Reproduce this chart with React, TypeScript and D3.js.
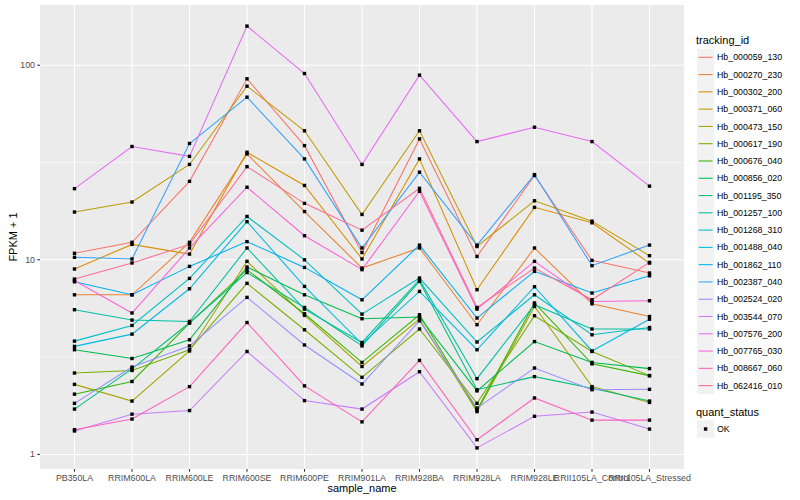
import React from "react";
import * as d3 from "d3";

const categories = ["PB350LA","RRIM600LA","RRIM600LE","RRIM600SE","RRIM600PE","RRIM901LA","RRIM928BA","RRIM928LA","RRIM928LE","RRII105LA_Control","RRII105LA_Stressed"];

const trackingIds = ["Hb_000059_130","Hb_000270_230","Hb_000302_200","Hb_000371_060","Hb_000473_150","Hb_000617_190","Hb_000676_040","Hb_000856_020","Hb_001195_350","Hb_001257_100","Hb_001268_310","Hb_001488_040","Hb_001862_110","Hb_002387_040","Hb_002524_020","Hb_003544_070","Hb_007576_200","Hb_007765_030","Hb_008667_060","Hb_062416_010"];

const palette = ["#F8766D","#EA8331","#D89000","#C09B00","#A3A500","#7CAE00","#39B600","#00BB4E","#00BF7D","#00C1A3","#00BFC4","#00BAE0","#00B0F6","#35A2FF","#9590FF","#C77CFF","#E76BF3","#FA62DB","#FF62BC","#FF6C91"];

const hb000059_130 = [10.8, 12.3, 25.3, 85.1, 38.6, 10.9, 41.8, 10.4, 27.1, 9.93, 8.55];
const hb000270_230 = [6.61, 6.61, 12.3, 35.0, 17.7, 9.07, 11.5, 4.64, 11.5, 5.94, 5.11];
const hb000302_200 = [8.97, 12.0, 10.7, 35.7, 24.1, 10.1, 33.0, 7.02, 18.6, 15.5, 9.62];
const hb000371_060 = [17.6, 19.8, 30.9, 78.0, 46.0, 17.1, 46.0, 11.7, 20.1, 15.8, 10.5];
const hb000473_150 = [2.29, 1.88, 3.40, 9.82, 5.18, 2.83, 4.96, 1.66, 5.76, 2.23, 1.85];
const hb000617_190 = [2.62, 2.70, 3.45, 7.57, 4.37, 2.49, 4.41, 1.83, 5.16, 3.38, 2.54];
const hb000676_040 = [2.04, 2.37, 4.73, 8.9, 5.28, 2.97, 5.22, 1.69, 6.0, 2.92, 2.54];
const hb000856_020 = [3.45, 3.11, 3.88, 9.18, 6.61, 4.98, 5.08, 2.12, 3.80, 2.97, 2.76];
const hb001195_350 = [1.71, 2.75, 4.75, 8.6, 5.69, 3.61, 7.74, 2.15, 2.51, 2.19, 1.88];
const hb001257_100 = [5.54, 4.90, 4.82, 11.5, 5.58, 3.76, 7.90, 2.45, 5.88, 4.41, 4.41];
const hb001268_310 = [3.82, 4.60, 8.02, 16.7, 10.0, 5.26, 8.06, 3.78, 6.61, 4.12, 4.49];
const hb001488_040 = [3.59, 4.15, 7.10, 15.7, 7.30, 3.70, 6.88, 3.45, 7.27, 3.40, 4.95];
const hb001862_110 = [7.71, 6.61, 9.25, 12.4, 9.14, 6.23, 11.9, 5.02, 8.72, 6.75, 8.28];
const hb002387_040 = [10.3, 10.1, 39.6, 68.5, 33.0, 11.5, 28.2, 11.9, 27.4, 9.33, 11.9];
const hb002524_020 = [1.83, 2.81, 3.61, 6.41, 3.65, 2.30, 4.86, 1.73, 2.78, 2.15, 2.16];
const hb003544_070 = [1.32, 1.61, 1.68, 3.38, 1.89, 1.71, 2.66, 1.08, 1.57, 1.65, 1.35];
const hb007576_200 = [23.2, 38.2, 34.0, 158.8, 90.6, 30.9, 88.9, 40.5, 48.0, 40.5, 23.9];
const hb007765_030 = [7.83, 5.33, 11.5, 23.6, 13.3, 8.90, 22.5, 5.58, 9.82, 6.11, 6.16];
const hb008667_060 = [1.34, 1.52, 2.23, 4.76, 2.25, 1.47, 3.04, 1.19, 1.95, 1.50, 1.50];
const hb062416_010 = [7.96, 9.63, 12.0, 30.1, 19.5, 14.2, 23.3, 5.69, 9.07, 6.23, 9.7];

const seriesValues = [hb000059_130, hb000270_230, hb000302_200, hb000371_060, hb000473_150, hb000617_190, hb000676_040, hb000856_020, hb001195_350, hb001257_100, hb001268_310, hb001488_040, hb001862_110, hb002387_040, hb002524_020, hb003544_070, hb007576_200, hb007765_030, hb008667_060, hb062416_010];

const yTicks = [1, 10, 100];
const yMinor = [Math.sqrt(10), Math.sqrt(1000)];

const W = 800, H = 500;
const panel = { left: 40, right: 684, top: 5, bottom: 469 };
const FONT = "'Liberation Sans', Arial, Helvetica, sans-serif";

export default function App() {
  const all = seriesValues.flat();
  const lmin = Math.log10(d3.min(all) as number);
  const lmax = Math.log10(d3.max(all) as number);
  const pad = (lmax - lmin) * 0.05;
  const y = d3.scaleLog().domain([Math.pow(10, lmin - pad), Math.pow(10, lmax + pad)]).range([panel.bottom, panel.top]);
  const x = d3.scalePoint<string>().domain(categories).range([panel.left, panel.right]).padding(0.6);
  const line = d3.line<number>().x((_, i) => x(categories[i]) as number).y((d) => y(d));
  const keyStep = 17.28;
  const keyTop = 57.3 - keyStep / 2;
  const ps = 3.4;

  return (
    <svg width={W} height={H} style={{ position: "absolute", left: 0, top: 0, background: "#fff" }} fontFamily={FONT}>
      <rect x={panel.left} y={panel.top} width={panel.right - panel.left} height={panel.bottom - panel.top} fill="#EBEBEB" />
      {yMinor.map((v) => (
        <line key={"mn" + v} x1={panel.left} x2={panel.right} y1={y(v)} y2={y(v)} stroke="#fff" strokeWidth={0.55} />
      ))}
      {yTicks.map((v) => (
        <line key={"mj" + v} x1={panel.left} x2={panel.right} y1={y(v)} y2={y(v)} stroke="#fff" strokeWidth={1.07} />
      ))}
      {categories.map((c) => (
        <line key={"vx" + c} x1={x(c)} x2={x(c)} y1={panel.top} y2={panel.bottom} stroke="#fff" strokeWidth={1.07} />
      ))}
      {seriesValues.map((vals, i) => (
        <path key={"ln" + i} d={line(vals) || ""} fill="none" stroke={palette[i]} strokeWidth={1.07} />
      ))}
      {seriesValues.map((vals, i) =>
        vals.map((v, j) => (
          <rect key={"pt" + i + "_" + j} x={(x(categories[j]) as number) - ps / 2} y={y(v) - ps / 2} width={ps} height={ps} fill="#000" />
        ))
      )}
      {yTicks.map((v) => (
        <g key={"yt" + v}>
          <line x1={panel.left - 2.75} x2={panel.left} y1={y(v)} y2={y(v)} stroke="#333" strokeWidth={1.07} />
          <text x={panel.left - 5} y={y(v)} dy="0.35em" textAnchor="end" fontSize={8.8} fill="#4D4D4D">{v}</text>
        </g>
      ))}
      {categories.map((c) => (
        <g key={"xt" + c}>
          <line x1={x(c)} x2={x(c)} y1={panel.bottom} y2={panel.bottom + 2.75} stroke="#333" strokeWidth={1.07} />
          <text x={x(c)} y={panel.bottom + 11.5} textAnchor="middle" fontSize={8.8} fill="#4D4D4D">{c}</text>
        </g>
      ))}
      <text x={(panel.left + panel.right) / 2} y={492} textAnchor="middle" fontSize={11} fill="#000">sample_name</text>
      <text transform={`translate(16.5,${(panel.top + panel.bottom) / 2}) rotate(-90)`} textAnchor="middle" fontSize={11} fill="#000">FPKM + 1</text>
      <text x={696} y={44} fontSize={11} fill="#000">tracking_id</text>
      {trackingIds.map((id, i) => {
        const cy = keyTop + i * keyStep + keyStep / 2;
        return (
          <g key={"lg" + id}>
            <rect x={697} y={cy - keyStep / 2} width={keyStep} height={keyStep} fill="#F2F2F2" />
            <line x1={698.7} x2={712.6} y1={cy} y2={cy} stroke={palette[i]} strokeWidth={1.07} />
            <text x={717} y={cy} dy="0.35em" fontSize={8.8} fill="#000">{id}</text>
          </g>
        );
      })}
      <text x={696} y={416} fontSize={11} fill="#000">quant_status</text>
      <rect x={697} y={429 - keyStep / 2} width={keyStep} height={keyStep} fill="#F2F2F2" />
      <rect x={705.6 - ps / 2} y={429 - ps / 2} width={ps} height={ps} fill="#000" />
      <text x={717} y={429} dy="0.35em" fontSize={8.8} fill="#000">OK</text>
    </svg>
  );
}
